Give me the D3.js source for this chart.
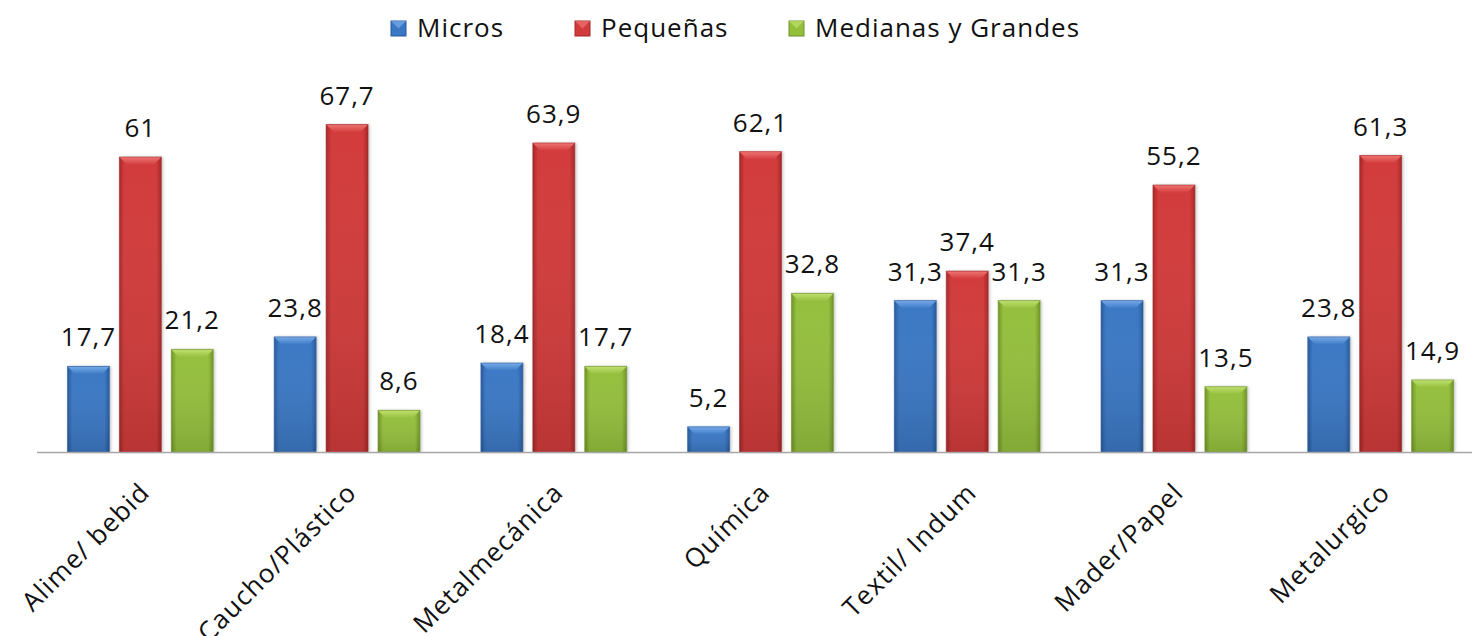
<!DOCTYPE html>
<html>
<head>
<meta charset="utf-8">
<script src="https://cdn.jsdelivr.net/npm/d3@7"></script>
<style>
  html, body { margin: 0; padding: 0; background: #fff; }
  svg { display: block; }
  text { font-family: "Open Sans", sans-serif; fill: #111; }
</style>
</head>
<body>
<svg id="chart" width="1472" height="636"></svg>
<script>
const categories = ["Alime/ bebid", "Caucho/Plástico", "Metalmecánica", "Química", "Textil/ Indum", "Mader/Papel", "Metalurgico"];
const seriesNames = ["Micros", "Pequeñas", "Medianas y Grandes"];
const micros = [17.7, 23.8, 18.4, 5.2, 31.3, 31.3, 23.8];
const pequenas = [61, 67.7, 63.9, 62.1, 37.4, 55.2, 61.3];
const medianas = [21.2, 8.6, 17.7, 32.8, 31.3, 13.5, 14.9];
const seriesValues = [micros, pequenas, medianas];
const colors = ["#3b78c4", "#d23b3b", "#94bf3c"];
const darkColors = ["#285a9c", "#a52828", "#6f9428"];
const lightColors = ["#78ace9", "#f07474", "#c0e070"];

const svg = d3.select("#chart");
const W = 1472, H = 636;
const left = 37, right = 1484, baseY = 452;

const x0 = d3.scaleBand().domain(categories).range([left, right]).padding(0);
const x1 = d3.scaleBand().domain(seriesNames).range([0, x0.bandwidth()])
  .paddingInner(10 / 52).paddingOuter(0.587);
const y = d3.scaleLinear().domain([0, 70]).range([baseY, baseY - 70 * 4.836]);

const defs = svg.append("defs");
seriesNames.forEach((s, i) => {
  const g = defs.append("linearGradient").attr("id", "grad" + i)
    .attr("x1", 0).attr("y1", 0).attr("x2", 1).attr("y2", 0);
  g.append("stop").attr("offset", "0%").attr("stop-color", darkColors[i]);
  g.append("stop").attr("offset", "12%").attr("stop-color", colors[i]);
  g.append("stop").attr("offset", "88%").attr("stop-color", colors[i]);
  g.append("stop").attr("offset", "100%").attr("stop-color", darkColors[i]);
  const gv = defs.append("linearGradient").attr("id", "vgrad" + i)
    .attr("x1", 0).attr("y1", 0).attr("x2", 0).attr("y2", 1);
  gv.append("stop").attr("offset", "0%").attr("stop-color", "#fff").attr("stop-opacity", 0);
  gv.append("stop").attr("offset", "100%").attr("stop-color", "#000").attr("stop-opacity", 0.12);
  const gt = defs.append("linearGradient").attr("id", "tgrad" + i)
    .attr("x1", 0).attr("y1", 0).attr("x2", 0).attr("y2", 1);
  gt.append("stop").attr("offset", "0%").attr("stop-color", lightColors[i]);
  gt.append("stop").attr("offset", "100%").attr("stop-color", colors[i]);
});
const f = defs.append("filter").attr("id", "shadow").attr("x", "-20%").attr("y", "-5%").attr("width", "140%").attr("height", "110%");
f.append("feDropShadow").attr("dx", 1.5).attr("dy", 0).attr("stdDeviation", 1.5).attr("flood-color", "#000").attr("flood-opacity", 0.25);

// bars
const data = [];
categories.forEach((c, ci) => {
  seriesNames.forEach((s, si) => {
    data.push({ cat: c, series: s, si: si, value: seriesValues[si][ci] });
  });
});

const barG = svg.append("g");
const bars = barG.selectAll("g.bar").data(data).join("g").attr("class", "bar");
bars.each(function(d) {
  const g = d3.select(this);
  const bx = x0(d.cat) + x1(d.series);
  const bw = x1.bandwidth();
  const by = y(d.value);
  const bh = y(0) - y(d.value);
  const bev = Math.min(8, bh / 2);
  g.append("rect").attr("x", bx).attr("y", by).attr("width", bw).attr("height", bh)
    .attr("fill", `url(#grad${d.si})`).attr("filter", "url(#shadow)");
  g.append("rect").attr("x", bx).attr("y", by).attr("width", bw).attr("height", bh)
    .attr("fill", `url(#vgrad${d.si})`);
  // top bevel
  g.append("path")
    .attr("d", `M${bx},${by} L${bx + bw},${by} L${bx + bw - bev},${by + bev} L${bx + bev},${by + bev} Z`)
    .attr("fill", `url(#tgrad${d.si})`);
  g.append("rect").attr("x", bx).attr("y", by).attr("width", bw).attr("height", bh)
    .attr("fill", "none").attr("stroke", darkColors[d.si]).attr("stroke-width", 1).attr("stroke-opacity", 0.6);
});

// value labels
svg.append("g").selectAll("text").data(data).join("text")
  .attr("x", d => x0(d.cat) + x1(d.series) + x1.bandwidth() / 2)
  .attr("y", d => y(d.value) - 20)
  .attr("text-anchor", "middle")
  .attr("font-size", 26)
  .attr("letter-spacing", 1)
  .text(d => String(d.value).replace(".", ","));

// axis line
svg.append("line").attr("x1", left).attr("x2", W).attr("y1", baseY + 0.5).attr("y2", baseY + 0.5)
  .attr("stroke", "#a6a6a6").attr("stroke-width", 1.5);

// category labels
svg.append("g").selectAll("text").data(categories).join("text")
  .attr("transform", d => `translate(${x0(d) + x0.bandwidth() / 2 + 11},${494}) rotate(-45)`)
  .attr("text-anchor", "end")
  .attr("font-size", 26)
  .attr("letter-spacing", 1.2)
  .text(d => d);

// legend
const legend = svg.append("g");
const legendStarts = [391, 575, 789];
seriesNames.forEach((s, i) => {
  const g = legend.append("g");
  const lx = legendStarts[i];
  g.append("rect").attr("x", lx).attr("y", 21).attr("width", 15).attr("height", 15)
    .attr("fill", colors[i]).attr("stroke", darkColors[i]).attr("stroke-width", 1);
  g.append("path").attr("d", `M${lx},${21} L${lx + 15},${21} L${lx + 7.5},${28.5} Z`).attr("fill", lightColors[i]).attr("opacity", 0.7);
  g.append("text").attr("x", lx + 26).attr("y", 37).attr("font-size", 26)
    .attr("letter-spacing", 1).text(s);
});
</script>
</body>
</html>
